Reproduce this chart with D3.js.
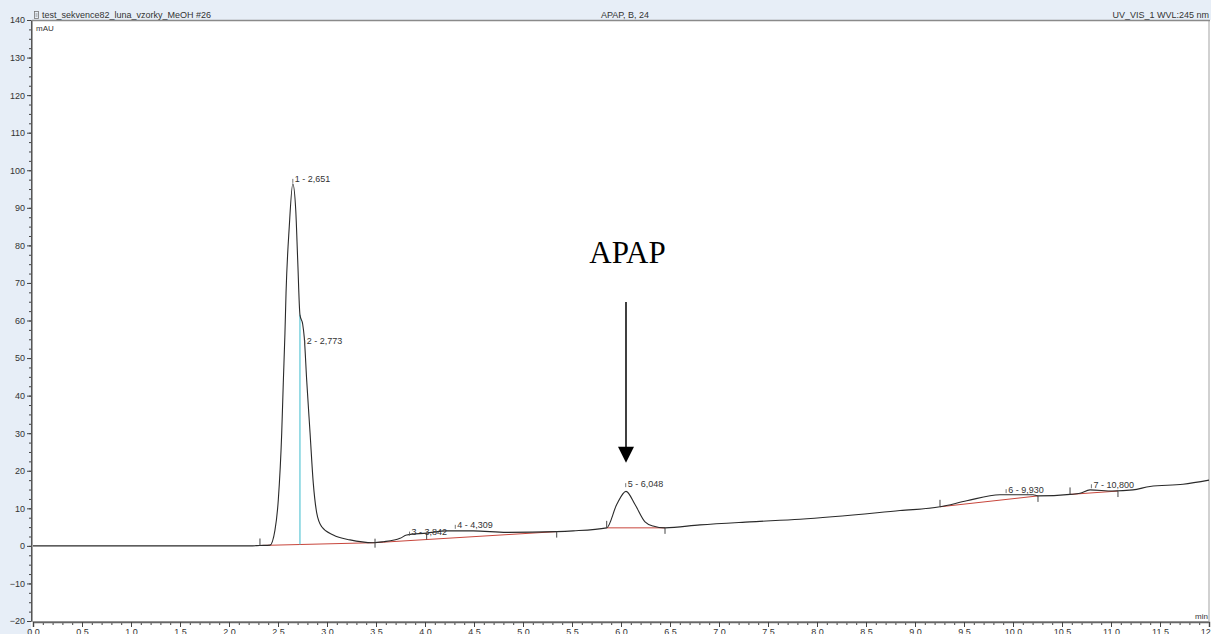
<!DOCTYPE html>
<html>
<head>
<meta charset="utf-8">
<script src="https://cdn.jsdelivr.net/npm/d3@7"></script>
<style>
  html, body { margin: 0; padding: 0; background: #fff; }
  svg { display: block; font-family: Arial, "Liberation Sans", sans-serif; }
</style>
</head>
<body>
<script>
// chromatogram trace (min, mAU)
const traceTime = [0.00, 0.50, 1.00, 1.50, 2.00, 2.214, 2.316, 2.418, 2.469, 2.503, 2.538, 2.554, 2.571, 2.582, 2.615, 2.651,
    2.681, 2.701, 2.724, 2.752, 2.768, 2.793, 2.827, 2.860, 2.895, 2.946, 3.064, 3.235, 3.472, 3.574, 3.745, 3.813,
    4.017, 4.221, 4.493, 4.834, 5.344, 5.513, 5.854, 5.956, 6.051, 6.143, 6.245, 6.327, 6.449, 6.806, 7.316, 7.827,
    8.847, 9.255, 9.528, 9.867, 10.204, 10.255, 10.582, 10.684, 10.786, 11.020, 11.224, 11.398, 11.735, 12.00];
const traceMAU = [0.0, 0.0, 0.0, 0.0, 0.0, 0.0, 0.1, 0.2, 4.2, 12.2, 30.1, 43.4, 56.7, 67.3, 85.0, 96.4,
    89.4, 76.1, 61.5, 59.0, 55.5, 44.0, 30.1, 16.7, 8.8, 5.1, 2.9, 1.6, 0.85, 1.1, 2.0, 2.9,
    3.4, 4.0, 4.0, 3.6, 3.8, 4.0, 4.8, 11.0, 14.5, 11.0, 6.4, 5.3, 4.8, 5.6, 6.4, 7.1,
    9.4, 10.4, 12.0, 13.6, 13.6, 13.3, 13.7, 14.0, 14.9, 14.6, 14.9, 15.8, 16.4, 17.5];

// peaks
const peakNo = [1, 2, 3, 4, 5, 6, 7];
const peakRT = [2.651, 2.773, 3.842, 4.309, 6.048, 9.930, 10.800];
const peakLabelMAU = [97.7, 54.8, 3.8, 5.6, 16.7, 15.1, 16.4];

// integration delimiters (dir: 1 up, -1 down, 0 centred)
const delimTime = [2.316, 3.490, 4.017, 5.344, 5.854, 6.449, 9.255, 10.255, 10.582, 11.071];
const delimMAU = [0.1, 0.85, 1.69, 3.8, 4.8, 4.8, 10.4, 13.3, 13.7, 14.6];
const delimDir = [1, 0, 1, -1, 1, -1, 1, -1, 1, -1];
const baselinePairs = [[0, 1], [1, 3], [4, 5], [6, 7], [8, 9]];

// perpendicular drop between peak 1 and 2
const dropTime = 2.724;
const dropMAU = [0.36, 61.5];

// axes
const yTickValues = [-20, -10, 0, 10, 20, 30, 40, 50, 60, 70, 80, 90, 100, 110, 120, 130, 140];
const xTickValues = [0, 0.5, 1, 1.5, 2, 2.5, 3, 3.5, 4, 4.5, 5, 5.5, 6, 6.5, 7, 7.5, 8, 8.5, 9, 9.5, 10, 10.5, 11, 11.5, 12];

// annotation
const annoText = "APAP";
const annoTime = 6.066, annoTextMAU = 75.2;
const arrowTime = 6.051, arrowTopMAU = 64.9, arrowTipMAU = 22.1;

const W = 1211, H = 634;
const svg = d3.select("body").append("svg").attr("width", W).attr("height", H);

const x = d3.scaleLinear().domain([0, 12]).range([33, 1209]);
const y = d3.scaleLinear().domain([-20, 140]).range([621, 20]);

// panel background
svg.append("rect").attr("x", 0).attr("y", 0).attr("width", W).attr("height", 20).attr("fill", "#e7eef7");
svg.append("rect").attr("x", 0).attr("y", 0).attr("width", 31).attr("height", H).attr("fill", "#e7eef7");
svg.append("rect").attr("x", 32.5).attr("y", 20.5).attr("width", 1176.5).attr("height", 601)
    .attr("fill", "#fff").attr("stroke", "#a3a3a3").attr("stroke-width", 1);
svg.append("line").attr("x1", 32).attr("x2", 1210).attr("y1", 20.5).attr("y2", 20.5)
    .attr("stroke", "#8a8a8a").attr("stroke-width", 1.5);

// header
const hdr = svg.append("g").attr("font-size", 9).attr("fill", "#333");
hdr.append("text").attr("x", 42).attr("y", 18).text("test_sekvence82_luna_vzorky_MeOH #26");
hdr.append("text").attr("x", 625).attr("y", 18).attr("text-anchor", "middle").text("APAP, B, 24");
hdr.append("text").attr("x", 1209).attr("y", 18).attr("text-anchor", "end").text("UV_VIS_1 WVL:245 nm");
// small icon
const ic = svg.append("g").attr("stroke", "#777").attr("fill", "none").attr("stroke-width", 0.8);
ic.append("rect").attr("x", 34.5).attr("y", 11.5).attr("width", 4).attr("height", 7);
ic.append("line").attr("x1", 35.5).attr("x2", 37.5).attr("y1", 14).attr("y2", 14);
ic.append("line").attr("x1", 35.5).attr("x2", 37.5).attr("y1", 16).attr("y2", 16);

svg.append("text").attr("x", 36).attr("y", 31).attr("font-size", 8).attr("fill", "#333").text("mAU");
svg.append("text").attr("x", 1208).attr("y", 619).attr("font-size", 8).attr("fill", "#333")
    .attr("text-anchor", "end").text("min");

// y axis
const yMinor = d3.range(-20, 140.1, 2.5);
svg.append("g").attr("transform", "translate(31,0)")
    .call(d3.axisLeft(y).tickValues(yMinor).tickSize(2).tickFormat(""))
    .call(g => g.select(".domain").remove());
svg.append("g").attr("class", "yaxis").attr("transform", "translate(31,0)")
    .call(d3.axisLeft(y).tickValues(yTickValues).tickSize(4).tickPadding(2).tickFormat(d3.format("d")))
    .call(g => g.select(".domain").attr("stroke", "#555"));
svg.selectAll(".yaxis text").attr("font-size", 9).attr("fill", "#333").attr("font-family", null);

// x axis
const xMinor = d3.range(0, 12.001, 0.1);
svg.append("g").attr("transform", "translate(0,622)")
    .call(d3.axisBottom(x).tickValues(xMinor).tickSize(3).tickFormat(""))
    .call(g => g.select(".domain").remove());
svg.append("g").attr("class", "xaxis").attr("transform", "translate(0,622)")
    .call(d3.axisBottom(x).tickValues(xTickValues).tickSize(5).tickPadding(2).tickFormat(d3.format(".1f")))
    .call(g => g.select(".domain").attr("stroke", "#666").attr("stroke-width", 1.5));
svg.selectAll(".xaxis text").attr("font-size", 9).attr("fill", "#333").attr("font-family", null);
svg.selectAll(".tick line").attr("stroke", "#444");

const plot = svg.append("g");

// baselines (red)
plot.selectAll(".bl").data(baselinePairs).enter().append("line")
    .attr("x1", d => x(delimTime[d[0]])).attr("y1", d => y(delimMAU[d[0]]))
    .attr("x2", d => x(delimTime[d[1]])).attr("y2", d => y(delimMAU[d[1]]))
    .attr("stroke", "#c8463c").attr("stroke-width", 1);

// perpendicular drop (cyan)
plot.append("line")
    .attr("x1", x(dropTime)).attr("x2", x(dropTime))
    .attr("y1", y(dropMAU[0])).attr("y2", y(dropMAU[1]))
    .attr("stroke", "#5cc6d6").attr("stroke-width", 1.2);

// trace
const pts = traceTime.map((t, i) => [t, traceMAU[i]]);
plot.append("path").datum(pts)
    .attr("fill", "none").attr("stroke", "#2a2a2a").attr("stroke-width", 1.1)
    .attr("d", d3.line().x(d => x(d[0])).y(d => y(d[1])).curve(d3.curveMonotoneX));

// delimiter ticks
plot.selectAll(".dl").data(delimTime).enter().append("line")
    .attr("x1", d => x(d)).attr("x2", d => x(d))
    .attr("y1", (d, i) => y(delimMAU[i]) + (delimDir[i] === 1 ? -7 : delimDir[i] === -1 ? 0 : -4))
    .attr("y2", (d, i) => y(delimMAU[i]) + (delimDir[i] === 1 ? 0 : delimDir[i] === -1 ? 6 : 5))
    .attr("stroke", "#444").attr("stroke-width", 1);

// peak labels
const fmt = d3.format(".3f");
const lab = plot.selectAll(".pl").data(peakRT).enter().append("g")
    .attr("transform", (d, i) => `translate(${x(d)},${y(peakLabelMAU[i])})`);
lab.append("line").attr("x1", 0).attr("x2", 0).attr("y1", 0).attr("y2", 4)
    .attr("stroke", "#555").attr("stroke-width", 0.8);
lab.append("text").attr("x", 2).attr("y", 3.5).attr("font-size", 9).attr("fill", "#333")
    .text((d, i) => peakNo[i] + " - " + fmt(d).replace(".", ","));

// annotation
svg.append("text").attr("x", x(annoTime)).attr("y", y(annoTextMAU))
    .attr("text-anchor", "middle").attr("font-family", "'Liberation Serif', 'Times New Roman', serif")
    .attr("font-size", 31).attr("fill", "#000").text(annoText);
const ax = x(arrowTime), aTop = y(arrowTopMAU), aTip = y(arrowTipMAU);
svg.append("line").attr("x1", ax).attr("x2", ax).attr("y1", aTop).attr("y2", aTip - 14)
    .attr("stroke", "#000").attr("stroke-width", 1.5);
svg.append("path")
    .attr("d", `M${ax - 8},${aTip - 16}L${ax + 8},${aTip - 16}L${ax},${aTip}Z`)
    .attr("fill", "#000");
</script>
</body>
</html>
